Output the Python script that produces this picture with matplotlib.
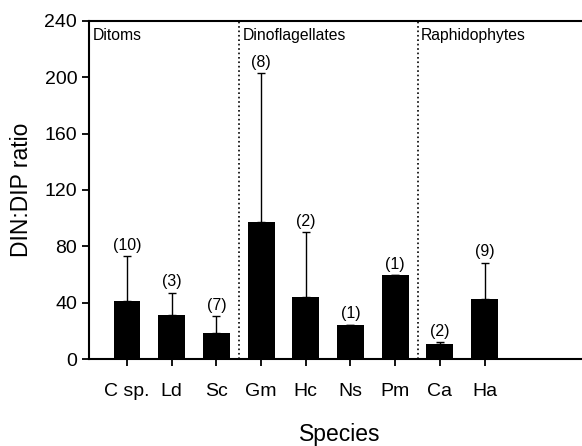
import numpy as np
import matplotlib.pyplot as plt

plt.rcParams['font.family'] = ['Liberation Sans', 'DejaVu Sans']

# data
species = ['C sp.', 'Ld', 'Sc', 'Gm', 'Hc', 'Ns', 'Pm', 'Ca', 'Ha']
ratio = [41, 31, 18.5, 97, 44, 24.5, 59.5, 11, 42.5]
err = [32, 16, 12, 106, 46, 0, 0, 1, 26]
n_obs = ['(10)', '(3)', '(7)', '(8)', '(2)', '(1)', '(1)', '(2)', '(9)']
groups = ['Ditoms', 'Dinoflagellates', 'Raphidophytes']
group_start = [-0.85, 2.5, 6.5]

x = np.arange(len(species))

fig = plt.figure(figsize=(5.82, 4.46), dpi=100)
ax = fig.add_axes([0.153, 0.195, 0.86, 0.758])

ax.bar(x, ratio, width=0.6, color='black', zorder=3)
ax.errorbar(x, ratio, yerr=[np.zeros(len(x)), err], fmt='none',
            ecolor='black', elinewidth=1.0, capsize=3, capthick=1.0, zorder=2)

# sample sizes above the bars
for xi, r, e, lab in zip(x, ratio, err, n_obs):
    ax.text(xi, r + e + 2.5, lab, ha='center', va='bottom', fontsize=11.5)

# group separators and names
for gx in group_start[1:]:
    ax.axvline(gx, color='black', linestyle=':', linewidth=1.2)
for gx, g in zip(group_start, groups):
    ax.text(gx + 0.08, 235, g, ha='left', va='top', fontsize=11.3)

ax.set_xlim(-0.85, 10.35)
ax.set_ylim(0, 240)
ax.set_yticks([0, 40, 80, 120, 160, 200, 240])
ax.set_xticks(x)
ax.set_xticklabels(species)
ax.tick_params(axis='both', labelsize=14, direction='out', length=5, width=1.3)
ax.tick_params(axis='x', pad=12)

ax.spines['right'].set_visible(False)
for s in ['left', 'top', 'bottom']:
    ax.spines[s].set_linewidth(1.5)

ax.set_xlabel('Species', fontsize=16.5, labelpad=17)
ax.set_ylabel('DIN:DIP ratio', fontsize=16.5, labelpad=8)

fig.savefig('out.png', dpi=100)
